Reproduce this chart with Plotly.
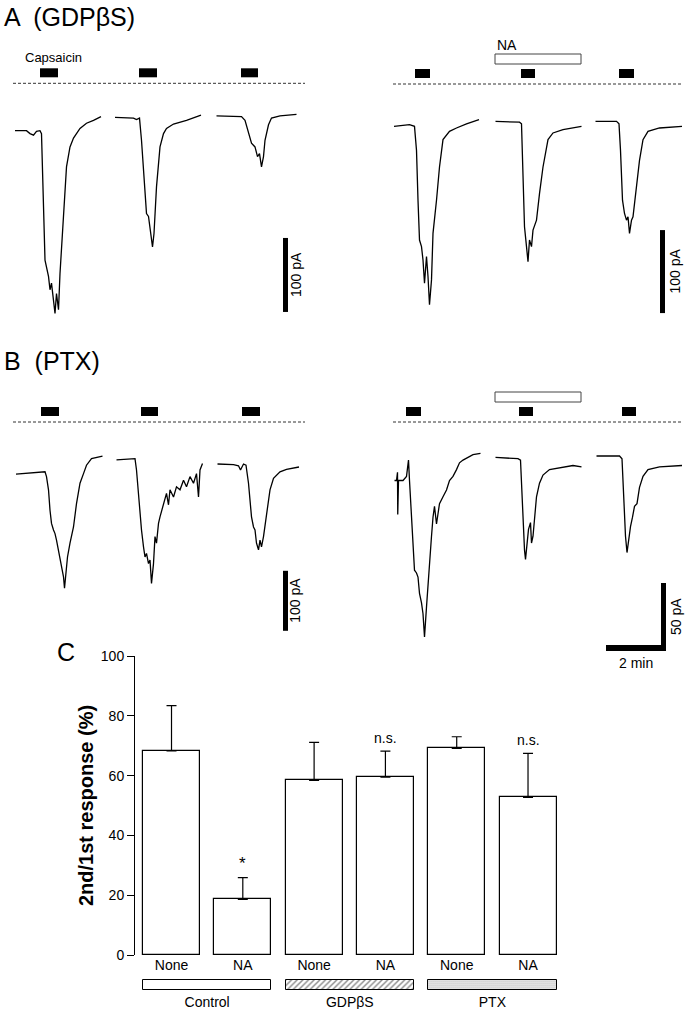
import plotly.graph_objects as go

FONT = "Arial, 'Liberation Sans', Helvetica, sans-serif"
W, H = 686, 1009

# ---------------- Data: current traces (time in s, current in pA) ----------------
A_left_t1 = [10, 33, 40, 47, 53, 60, 63, 67, 70, 77, 80, 83, 87, 90, 93, 97, 100, 103, 107, 113, 120, 127, 140, 153, 167, 182]
A_left_i1 = [-64, -64, -68, -70, -65, -64, -68, -158, -239, -261, -279, -270, -293, -311, -284, -306, -257, -225, -180, -113, -86, -74, -61, -54, -50, -45]
A_left_t2 = [210, 247, 253, 259, 263, 268, 273, 277, 280, 285, 288, 293, 300, 307, 313, 327, 353, 382]
A_left_i2 = [-46, -47, -49, -47, -77, -135, -176, -180, -198, -221, -203, -140, -86, -68, -61, -55, -50, -43]
A_left_t3 = [413, 447, 463, 470, 477, 483, 490, 495, 499, 503, 507, 510, 517, 523, 540, 573]
A_left_i3 = [-44, -45, -45, -50, -68, -81, -86, -99, -95, -113, -99, -77, -56, -47, -44, -42]

A_right_t1 = [16, 47, 57, 61, 64, 67, 71, 74, 77, 81, 84, 87, 91, 94, 101, 107, 114, 121, 127, 141, 161, 186]
A_right_i1 = [-51, -49, -51, -80, -140, -188, -196, -212, -240, -208, -232, -266, -236, -180, -140, -100, -67, -61, -57, -53, -48, -43]
A_right_t2 = [219, 267, 271, 274, 277, 281, 284, 287, 291, 294, 301, 307, 314, 324, 334, 354, 391]
A_right_i2 = [-45, -46, -48, -100, -172, -196, -214, -188, -196, -176, -164, -132, -100, -67, -59, -55, -51]
A_right_t3 = [419, 461, 466, 469, 473, 477, 481, 484, 487, 491, 494, 501, 507, 514, 524, 547, 592]
A_right_i3 = [-45, -45, -48, -80, -140, -156, -164, -160, -180, -164, -160, -124, -92, -67, -57, -53, -51]

B_left_t1 = [12, 47, 70, 73, 77, 80, 83, 87, 90, 93, 97, 100, 103, 107, 109, 112, 115, 120, 127, 133, 140, 147, 153, 163, 185]
B_left_i1 = [-87, -85, -83, -91, -113, -147, -169, -180, -186, -197, -213, -225, -241, -258, -277, -247, -225, -202, -175, -136, -102, -86, -72, -61, -57]
B_left_t2 = [213, 240, 250, 253, 257, 260, 263, 267, 270, 273, 277, 280, 283, 287, 290, 293, 297, 300, 307, 313, 317, 320, 327, 333, 340, 347, 353, 360, 367, 373, 377, 380, 385]
B_left_i2 = [-63, -62, -61, -80, -125, -158, -180, -208, -225, -219, -236, -230, -269, -236, -191, -202, -169, -158, -136, -119, -138, -113, -125, -108, -113, -97, -108, -91, -102, -86, -125, -80, -69]
B_left_t3 = [415, 447, 457, 461, 467, 472, 477, 480, 483, 487, 490, 493, 497, 500, 503, 507, 513, 520, 527, 540, 553, 578]
B_left_i3 = [-70, -71, -73, -80, -70, -72, -102, -136, -158, -175, -180, -202, -213, -197, -208, -191, -158, -113, -94, -83, -79, -75]

B_right_t1 = [17, 21, 23, 23.5, 25, 34, 41, 45, 47, 51, 54, 57, 61, 64, 67, 71, 74, 77, 81, 84, 87, 91, 94, 97, 101, 104, 107, 114, 121, 127, 134, 141, 147, 154, 164, 174, 189]
B_right_i1 = [-43, -43, -37, -68, -43, -43, -40, -28, -43, -67, -92, -109, -111, -114, -126, -133, -141, -158, -136, -119, -99, -84, -70, -62, -75, -65, -60, -55, -50, -43, -40, -35, -30, -28, -26, -24, -23]
B_right_t2 = [219, 264, 269, 272, 274, 277, 279, 282, 285, 289, 291, 294, 297, 301, 307, 314, 327, 354, 374, 391]
B_right_i2 = [-26, -27, -28, -55, -79, -94, -101, -89, -79, -74, -89, -84, -70, -55, -45, -39, -35, -33, -32, -33]
B_right_t3 = [421, 467, 472, 475, 477, 479, 482, 485, 489, 493, 497, 502, 507, 514, 524, 547, 592]
B_right_i3 = [-25, -25, -27, -55, -74, -84, -96, -87, -77, -70, -62, -60, -48, -40, -35, -33, -32]

# drug application periods (s)
A_left_caps = [(60, 96), (258, 294), (462, 496)]
A_right_caps = [(58, 88), (270, 298), (466, 496)]
A_right_na = (218, 390)
B_left_caps = [(62, 98), (262, 296), (464, 500)]
B_right_caps = [(40, 70), (266, 294), (472, 500)]
B_right_na = (218, 390)
baseline_span_left = (6, 590)
baseline_span_right = (14, 594)

# ---------------- Data: bar chart (panel C) ----------------
groups = ["Control", "GDP\u03b2S", "PTX"]
conditions = ["None", "NA", "None", "NA", "None", "NA"]
ratio_mean = [68.3, 18.6, 58.4, 59.5, 69.1, 52.7]
ratio_sem = [15.1, 7.3, 12.7, 8.7, 3.9, 14.7]
significance = ["", "*", "", "n.s.", "", "n.s."]
y_ticks = [0, 20, 40, 60, 80, 100]


def xdom(l, r):
    return [l / W, r / W]


def ydom(top, bot):
    return [1 - bot / H, 1 - top / H]


panels = [
    dict(name="A_left", x=(10, 310), y=(30, 330), zero=83.3, k=0.74,
         sweeps=[(A_left_t1, A_left_i1), (A_left_t2, A_left_i2), (A_left_t3, A_left_i3)],
         caps=A_left_caps, na=None, span=baseline_span_left,
         sbar=dict(t=546, top=-209, amp=100, label="100 pA", shift=13)),
    dict(name="A_right", x=(386, 686), y=(30, 330), zero=84, k=0.83,
         sweeps=[(A_right_t1, A_right_i1), (A_right_t2, A_right_i2), (A_right_t3, A_right_i3)],
         caps=A_right_caps, na=A_right_na, span=baseline_span_right,
         sbar=dict(t=548, top=-176, amp=100, label="100 pA", shift=15)),
    dict(name="B_left", x=(10, 310), y=(370, 650), zero=422, k=0.60,
         sweeps=[(B_left_t1, B_left_i1), (B_left_t2, B_left_i2), (B_left_t3, B_left_i3)],
         caps=B_left_caps, na=None, span=baseline_span_left,
         sbar=dict(t=546, top=-248, amp=100, label="100 pA", shift=12)),
    dict(name="B_right", x=(386, 686), y=(370, 670), zero=422, k=1.36,
         sweeps=[(B_right_t1, B_right_i1), (B_right_t2, B_right_i2), (B_right_t3, B_right_i3)],
         caps=B_right_caps, na=B_right_na, span=baseline_span_right,
         sbar=dict(t=550, top=-118.4, amp=50, label="50 pA", shift=15)),
]

fig = go.Figure()
shapes = []
annotations = []
layout_axes = {}

for idx, p in enumerate(panels, start=1):
    xa = "x" if idx == 1 else f"x{idx}"
    ya = "y" if idx == 1 else f"y{idx}"
    xkey = "xaxis" if idx == 1 else f"xaxis{idx}"
    ykey = "yaxis" if idx == 1 else f"yaxis{idx}"
    top_px, bot_px = p["y"]
    yr = [(p["zero"] - bot_px) / p["k"], (p["zero"] - top_px) / p["k"]]
    layout_axes[xkey] = dict(domain=xdom(*p["x"]), range=[0, 600], visible=False,
                             anchor=ya, fixedrange=True, automargin=False)
    layout_axes[ykey] = dict(domain=ydom(top_px, bot_px), range=yr, visible=False,
                             anchor=xa, fixedrange=True, automargin=False)
    for t, i in p["sweeps"]:
        fig.add_trace(go.Scatter(x=t, y=i, mode="lines", xaxis=xa, yaxis=ya,
                                 line=dict(color="black", width=1.3),
                                 showlegend=False, hoverinfo="skip"))
    # dashed zero-current line
    shapes.append(dict(type="line", xref=xa, yref=ya, x0=p["span"][0], x1=p["span"][1],
                       y0=0, y1=0, line=dict(color="#333", width=1, dash="3px,2px")))
    # capsaicin application bars
    for c0, c1 in p["caps"]:
        shapes.append(dict(type="rect", xref=xa, yref=ya, x0=c0, x1=c1,
                           ysizemode="pixel", yanchor=0, y0=6, y1=15,
                           fillcolor="black", line=dict(width=0)))
    # NA application bar
    if p["na"] is not None:
        shapes.append(dict(type="rect", xref=xa, yref=ya, x0=p["na"][0], x1=p["na"][1],
                           ysizemode="pixel", yanchor=0, y0=20, y1=30,
                           fillcolor="white", line=dict(color="#444", width=1)))
    # vertical scale bar
    sb = p["sbar"]
    shapes.append(dict(type="rect", xref=xa, yref=ya, xsizemode="pixel", xanchor=sb["t"],
                       x0=0, x1=5, y0=sb["top"], y1=sb["top"] - sb["amp"],
                       fillcolor="black", line=dict(width=0)))
    annotations.append(dict(xref=xa, yref=ya, x=sb["t"], y=sb["top"] - sb["amp"] / 2,
                            xshift=sb["shift"], text=sb["label"], textangle=-90,
                            showarrow=False, xanchor="center", yanchor="middle",
                            font=dict(size=14, color="black", family=FONT)))
    if p["name"] == "A_left":
        annotations.append(dict(xref=xa, yref=ya, x=26, y=0, yshift=26, text="Capsaicin",
                                showarrow=False, xanchor="left", yanchor="middle",
                                font=dict(size=13, color="black", family=FONT)))
    if p["name"] == "A_right":
        annotations.append(dict(xref=xa, yref=ya, x=p["na"][0], y=0, yshift=39, text="NA",
                                showarrow=False, xanchor="left", yanchor="middle",
                                font=dict(size=14, color="black", family=FONT)))
    if p["name"] == "B_right":
        # 2 min time scale bar sharing the corner with the 50 pA bar
        ybot = sb["top"] - sb["amp"]
        shapes.append(dict(type="rect", xref=xa, yref=ya, x0=sb["t"] + 10 - 120, x1=sb["t"] + 10,
                           ysizemode="pixel", yanchor=ybot, y0=0, y1=6,
                           fillcolor="black", line=dict(width=0)))
        annotations.append(dict(xref=xa, yref=ya, x=sb["t"] + 10 - 60, y=ybot, yshift=-2,
                                text="2 min", showarrow=False, xanchor="center", yanchor="top",
                                font=dict(size=14, color="black", family=FONT)))

# ---------------- Panel C ----------------
xpos = list(range(len(conditions)))
fig.add_trace(go.Bar(
    x=xpos, y=ratio_mean, width=0.8, xaxis="x5", yaxis="y5",
    marker=dict(color="white", line=dict(color="black", width=1.2)),
    error_y=dict(type="data", symmetric=False, array=ratio_sem,
                 arrayminus=[0] * len(ratio_sem), color="black", thickness=1.2, width=5),
    showlegend=False, hoverinfo="skip"))

# treatment strips under the bars
group_centers = [0.5, 2.5, 4.5]
fig.add_trace(go.Bar(
    x=group_centers, y=[1, 1, 1], base=[0, 0, 0], width=1.8, xaxis="x6", yaxis="y6",
    marker=dict(color="white", line=dict(color="black", width=1),
                pattern=dict(shape=["", "/", "."], fgcolor=["black", "#111", "#777"],
                             bgcolor="white", size=[6, 4, 2], solidity=[0.3, 0.35, 0.6])),
    showlegend=False, hoverinfo="skip"))

for i, s in enumerate(significance):
    if s:
        annotations.append(dict(xref="x5", yref="y5", x=i, y=ratio_mean[i] + ratio_sem[i],
                                yshift=3, text=s, showarrow=False, xanchor="center",
                                yanchor="bottom",
                                font=dict(size=14 if s != "*" else 17, color="black", family=FONT)))

xr_c = [-0.512, 5.729]
layout_axes["xaxis5"] = dict(domain=xdom(135, 580), range=xr_c, anchor="y5",
                             tickvals=xpos, ticktext=conditions, ticks="", showline=False,
                             showgrid=False, zeroline=False, fixedrange=True, automargin=False,
                             tickfont=dict(size=14, color="black", family=FONT))
layout_axes["yaxis5"] = dict(domain=ydom(656, 955), range=[0, 100], anchor="x5",
                             tickvals=y_ticks, ticks="outside", ticklen=7, tickwidth=1,
                             tickcolor="black", showline=True, linecolor="black", linewidth=1,
                             showgrid=False, zeroline=False, fixedrange=True, automargin=False,
                             tickfont=dict(size=14, color="black", family=FONT),
                             title=dict(text="<b>2nd/1st response (%)</b>", standoff=1,
                                        font=dict(size=20, color="black", family=FONT)))
# strip axis: the padded range keeps the strip outlines inside the clip area
layout_axes["xaxis6"] = dict(domain=xdom(135, 580), range=xr_c, anchor="y6",
                             tickvals=group_centers, ticktext=groups, ticks="", showline=False,
                             showgrid=False, zeroline=False, fixedrange=True, automargin=False,
                             tickfont=dict(size=14, color="black", family=FONT))
layout_axes["yaxis6"] = dict(domain=ydom(978, 992), range=[-0.2, 1.2], anchor="x6",
                             visible=False, fixedrange=True, automargin=False)

for txt, xp, yp in [("A  (GDP\u03b2S)", 2, 17), ("B  (PTX)", 2, 361), ("C", 55, 652)]:
    annotations.append(dict(xref="paper", yref="paper", x=xp / W, y=1 - yp / H, text=txt,
                            showarrow=False, xanchor="left", yanchor="middle",
                            font=dict(size=25, color="black", family=FONT)))

fig.update_layout(
    width=W, height=H, margin=dict(l=0, r=0, t=0, b=0, autoexpand=False),
    paper_bgcolor="white", plot_bgcolor="rgba(0,0,0,0)",
    bargap=0, shapes=shapes, annotations=annotations,
    font=dict(family=FONT, color="black"),
    **layout_axes)

fig.write_html("out.html", config={"displayModeBar": False},
               post_script="document.body.style.margin='0';document.body.style.overflow='hidden';")
